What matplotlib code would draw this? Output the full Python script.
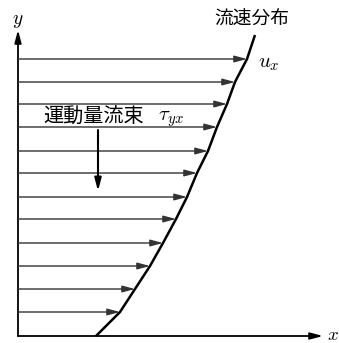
import matplotlib
matplotlib.use("Agg")
import matplotlib.pyplot as plt

plt.rcParams['font.family'] = ['Noto Sans CJK JP', 'DejaVu Sans']
plt.rcParams['mathtext.fontset'] = 'cm'

# Velocity profile: height above the wall and flow velocity u_x at that height
heights = [24, 47, 70, 93, 117, 139, 163, 185, 209, 232, 254, 277]
velocities = [102, 117, 132, 145, 158, 169, 179, 190, 199, 209, 217, 229]
wall_u, top_h, top_u = 78, 301, 237

profile_h = [0] + heights + [top_h]
profile_u = [wall_u] + velocities + [top_u]

fig = plt.figure(figsize=(3.39, 3.43), dpi=100)
ax = fig.add_axes([0, 0, 1, 1])
ax.set_xlim(-18, 321)
ax.set_ylim(-7, 336)
ax.axis('off')

def arrow(x0, y0, x1, y1, lw=1.0, color='#222222', hl=0.75, hw=0.2):
    ax.annotate('', xy=(x1, y1), xytext=(x0, y0),
                arrowprops=dict(arrowstyle=f'-|>,head_length={hl},head_width={hw}',
                                lw=lw, color=color, shrinkA=0, shrinkB=0))

# coordinate axes
arrow(0, 0, 305, 0, lw=1.3, color='black')
arrow(0, 0, 0, 306, lw=1.3, color='black')
ax.text(309, 2, '$x$', fontsize=13.5, ha='left', va='center')
ax.text(0, 316, '$y$', fontsize=14, ha='center', va='center')

# velocity arrows
for h, u in zip(heights, velocities):
    arrow(0, h, u, h, lw=1.0, color='#333333')

# profile curve
ax.plot(profile_u, profile_h, color='black', lw=1.8, solid_capstyle='butt')

ax.text(234, 317, '流速分布', fontsize=13.5, ha='center', va='center')
ax.text(240, 274, '$u_x$', fontsize=15, ha='left', va='center')

# momentum flux
ax.text(25, 219, '運動量流束', fontsize=14.5, ha='left', va='center')
ax.text(140, 218, r'$\tau_{yx}$', fontsize=15, ha='left', va='center')
arrow(80, 206, 80, 145, lw=1.5, color='black')

fig.savefig('out.png', dpi=100)
